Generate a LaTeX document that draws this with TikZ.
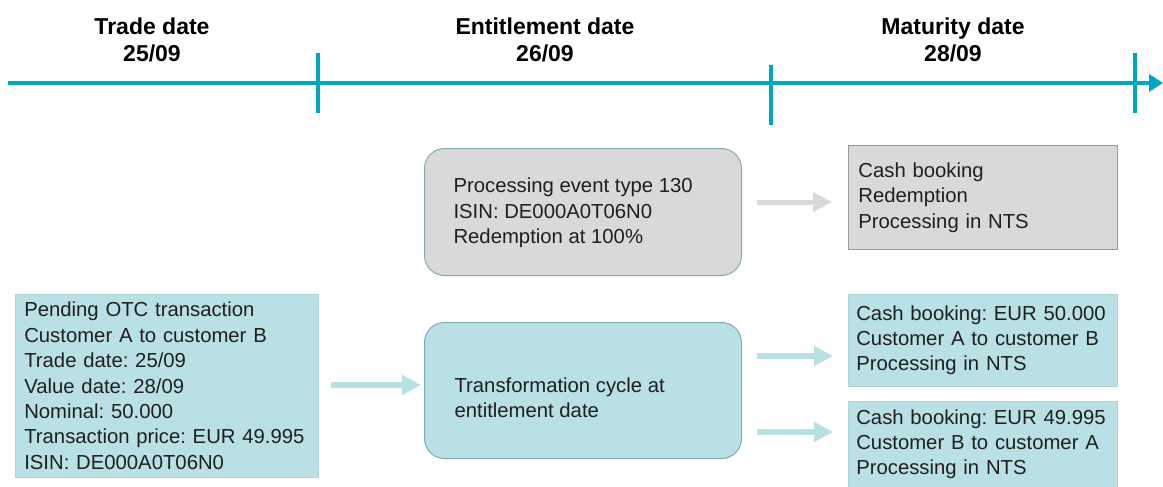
\documentclass[tikz,border=0pt]{standalone}
\usepackage{fontspec}
\setmainfont{Liberation Sans}
\usetikzlibrary{arrows.meta}
\definecolor{lineteal}{HTML}{00A6BF}
\definecolor{boxteal}{HTML}{B9E0E4}
\definecolor{boxgrey}{HTML}{D9D9D9}
\definecolor{rimteal}{HTML}{82ABAF}
\frenchspacing
\tikzset{
	datelabel/.style={font=\fontsize{23}{27}\selectfont\bfseries, align=center},
	boxtext/.style={font=\fontsize{20.3}{25.4}\selectfont, align=left, text=black!88},
	tealrect/.style={boxtext, fill=boxteal, draw=boxteal!85!gray, line width=.6, anchor=north west},
	greyrect/.style={boxtext, fill=boxgrey, draw=gray!80, line width=.8, anchor=north west},
	roundbox/.style={boxtext, draw=rimteal, line width=1, rounded corners=20, anchor=north west},
	flow/.style={line width=6, -{Triangle[length=19,width=19]}},
}
\begin{document}
\begin{tikzpicture}[x=1pt,y=-1pt]
\useasboundingbox (0,0) rectangle (1163,487);
\node (tradedate) at (152,40) [datelabel] {Trade date\\25/09};
\node (entdate) at (545,40) [datelabel] {Entitlement date\\26/09};
\node (matdate) at (953,40) [datelabel] {Maturity date\\28/09};

\coordinate (tstart) at (8,83);
\coordinate (tend) at (1163,83);
\draw[lineteal, line width=4, -{Triangle[length=14,width=17]}] (tstart) -- (tend);
\foreach \x/\top/\bot in {318/53/113, 771/65/125, 1135/53/113} {
	\draw[lineteal, line width=4] (\x,\top) -- (\x,\bot);
	}

\node (event) at (424,148) [roundbox, fill=boxgrey, minimum width=317, minimum height=127] {};
\node (eventtxt) at (450,213) [boxtext, anchor=west] {Processing event type 130\\ISIN: DE000A0T06N0\\Redemption at 100\%};
\node (redemp) at (848,145) [greyrect, minimum width=269, minimum height=104, text width=249, inner xsep=10] {Cash booking\\Redemption\\Processing in NTS};

\node (otc) at (15,294) [tealrect, minimum width=303, minimum height=183, text width=285, inner xsep=9] {Pending OTC transaction\\Customer A to customer B\\Trade date: 25/09\\Value date: 28/09\\Nominal: 50.000\\Transaction price: EUR 49.995\\ISIN: DE000A0T06N0};
\node (cycle) at (424,322) [roundbox, fill=boxteal, minimum width=317, minimum height=136] {};
\node (cycletxt) at (451,398) [boxtext, anchor=west] {Transformation cycle at\\entitlement date};
\node (cashab) at (848,294) [tealrect, minimum width=269, minimum height=92, text width=253, inner xsep=8] {Cash booking: EUR 50.000\\Customer A to customer B\\Processing in NTS};
\node (cashba) at (848,401) [tealrect, minimum width=269, minimum height=86, text width=253, inner xsep=8] {Cash booking: EUR 49.995\\Customer B to customer A\\Processing in NTS};

\coordinate (g1) at (757,202);
\coordinate (g2) at (832,202);
\coordinate (o1) at (331,385);
\coordinate (o2) at (421,385);
\coordinate (c1) at (757,356);
\coordinate (c2) at (833,356);
\coordinate (c3) at (757,432);
\coordinate (c4) at (833,432);
\draw[flow, boxgrey, line width=5] (g1) -- (g2);
\draw[flow, boxteal] (o1) -- (o2);
\draw[flow, boxteal] (c1) -- (c2);
\draw[flow, boxteal] (c3) -- (c4);
\end{tikzpicture}
\end{document}
